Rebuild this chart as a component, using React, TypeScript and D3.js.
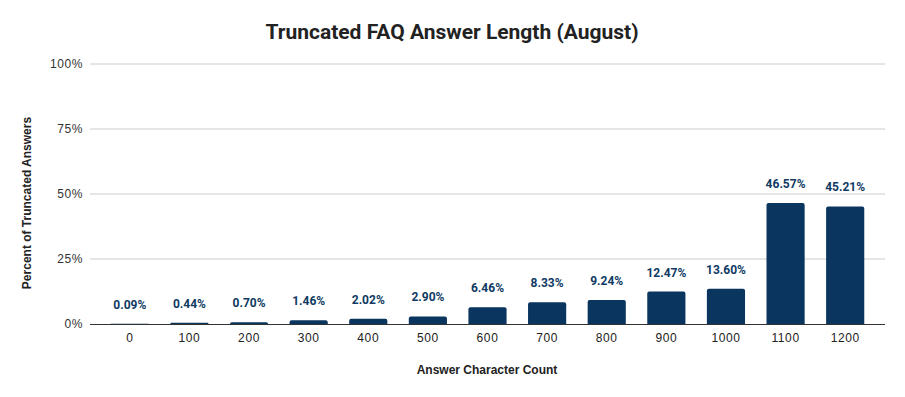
import React from "react";
import * as d3 from "d3";

const categories = ["0", "100", "200", "300", "400", "500", "600", "700", "800", "900", "1000", "1100", "1200"];
const values = [0.09, 0.44, 0.7, 1.46, 2.02, 2.9, 6.46, 8.33, 9.24, 12.47, 13.6, 46.57, 45.21];
const yTicks = [0, 25, 50, 75, 100];

const W = 905;
const H = 397;
const BAR = "#0a355e";

export default function App() {
  const x = d3.scaleBand<string>().domain(categories).range([100, 875]).paddingInner(0.36).paddingOuter(0.18);
  const y = d3.scaleLinear().domain([0, 100]).range([324, 64]);
  const bw = x.bandwidth();
  const r = 2;
  return (
    <svg width={W} height={H} style={{ position: "absolute", left: 0, top: 0, background: "#fff" }}>
      <rect width={W} height={H} fill="#fff" />
      <text x={452} y={39} textAnchor="middle" fontFamily="Roboto, sans-serif" fontWeight="bold" fontSize={21} fill="#222">
        Truncated FAQ Answer Length (August)
      </text>
      {yTicks.map((t) => (
        <g key={t}>
          {t > 0 && <line x1={90} x2={885} y1={y(t)} y2={y(t)} stroke="#cccccc" strokeWidth={1} />}
          <text x={83} y={y(t) + 4} textAnchor="end" fontFamily="Liberation Sans, Arial, sans-serif" fontSize={12} fill="#333" letterSpacing={0.6}>
            {t}%
          </text>
        </g>
      ))}
      {categories.map((c, i) => {
        const x0 = x(c)!;
        const yt = y(values[i]);
        const h = 324 - yt;
        const rr = Math.min(r, h);
        const path = `M${x0},324 L${x0},${yt + rr} Q${x0},${yt} ${x0 + rr},${yt} L${x0 + bw - rr},${yt} Q${x0 + bw},${yt} ${x0 + bw},${yt + rr} L${x0 + bw},324 Z`;
        return (
          <g key={c}>
            <path d={path} fill={BAR} />
            <text x={x0 + bw / 2} y={yt - 15} textAnchor="middle" fontFamily="Roboto, sans-serif" fontWeight="bold" fontSize={12} fill="#0f3a63">
              {values[i].toFixed(2)}%
            </text>
            <text x={x0 + bw / 2} y={342} textAnchor="middle" fontFamily="Liberation Sans, Arial, sans-serif" fontSize={12} fill="#222" letterSpacing={0.6}>
              {c}
            </text>
          </g>
        );
      })}
      <line x1={90} x2={885} y1={324.5} y2={324.5} stroke="#333" strokeWidth={1} />
      <text x={487} y={374} textAnchor="middle" fontFamily="Liberation Sans, Arial, sans-serif" fontWeight="bold" fontSize={12} fill="#222">
        Answer Character Count
      </text>
      <text transform={`translate(31,203) rotate(-90)`} textAnchor="middle" fontFamily="Liberation Sans, Arial, sans-serif" fontWeight="bold" fontSize={12} fill="#222">
        Percent of Truncated Answers
      </text>
    </svg>
  );
}
